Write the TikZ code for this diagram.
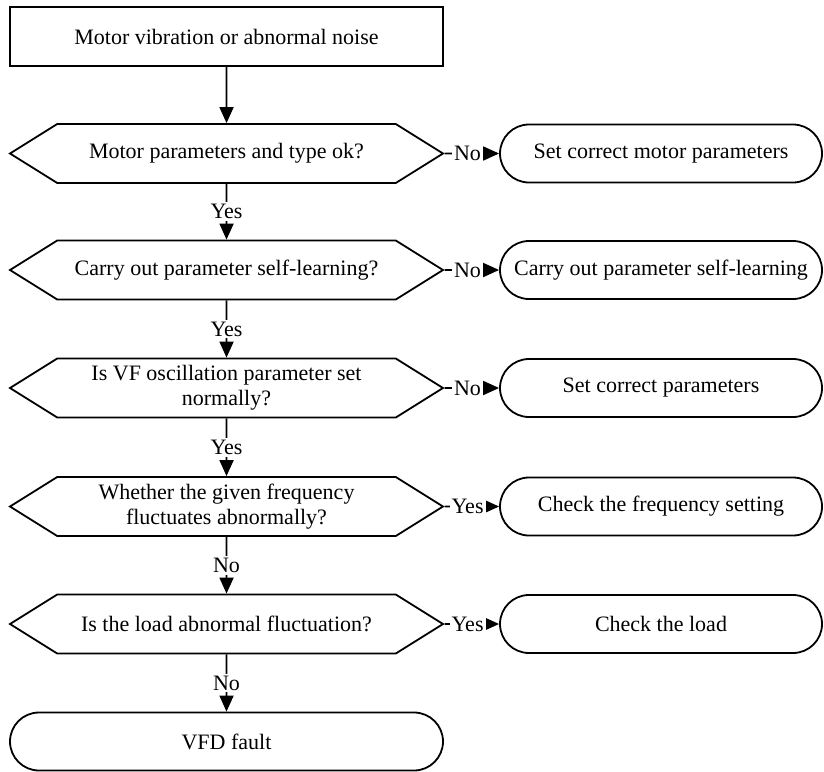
\documentclass[tikz,border=0pt]{standalone}
\usepackage{fontspec}
\setmainfont{Liberation Serif}
\usetikzlibrary{shapes.symbols,shapes.misc,arrows.meta}

\begin{document}
\begin{tikzpicture}[x=0.5pt, y=-0.5pt, line width=0.9pt,
    font=\fontsize{11}{12.5}\selectfont,
    startbox/.style={draw, rectangle, minimum width=216.5pt, minimum height=29.5pt, inner sep=0pt},
    decision/.style={draw, signal, signal to=west and east, signal pointer angle=64,
      minimum width=216.5pt, minimum height=29.5pt, inner sep=0pt, align=center},
    term/.style={draw, rounded rectangle, minimum height=29pt, inner sep=0pt},
    arr/.style={-{Triangle[length=8pt,width=7pt]}},
    lbl/.style={fill=white, inner sep=1pt}]
  \useasboundingbox (0,0) rectangle (824,771);
  % left column, centres 117px apart
  \node[startbox] (start) at (226.5,36.5) {Motor vibration or abnormal noise};
  \node[decision] (q1) at (226.5,153.5) {Motor parameters and type ok?};
  \node[decision] (q2) at (226.5,270) {Carry out parameter self-learning?};
  \node[decision] (q3) at (226.5,388) {Is VF oscillation parameter set\\normally?};
  \node[decision] (q4) at (226.5,506.5) {Whether the given frequency\\fluctuates abnormally?};
  \node[decision] (q5) at (226.5,624) {Is the load abnormal fluctuation?};
  \node[term, minimum width=216.5pt] (fault) at (226.5,741.5) {VFD fault};
  % right column
  \node[term, minimum width=161pt] (r1) at (661,153.5) {Set correct motor parameters};
  \node[term, minimum width=161pt] (r2) at (661,270) {Carry out parameter self-learning};
  \node[term, minimum width=161pt] (r3) at (661,388) {Set correct parameters};
  \node[term, minimum width=161pt] (r4) at (661,506.5) {Check the frequency setting};
  \node[term, minimum width=161pt] (r5) at (661,624) {Check the load};
  % down the column
  \draw[arr] (start) -- (q1);
  \draw[arr] (q1) -- node[lbl] {Yes} (q2);
  \draw[arr] (q2) -- node[lbl] {Yes} (q3);
  \draw[arr] (q3) -- node[lbl] {Yes} (q4);
  \draw[arr] (q4) -- node[lbl] {No} (q5);
  \draw[arr] (q5) -- node[lbl] {No} (fault);
  % to the right
  \draw[arr] (q1) -- node[lbl, pos=0.42] {No} (r1);
  \draw[arr] (q2) -- node[lbl, pos=0.42] {No} (r2);
  \draw[arr] (q3) -- node[lbl, pos=0.42] {No} (r3);
  \draw[arr] (q4) -- node[lbl, pos=0.42] {Yes} (r4);
  \draw[arr] (q5) -- node[lbl, pos=0.42] {Yes} (r5);
\end{tikzpicture}
\end{document}
